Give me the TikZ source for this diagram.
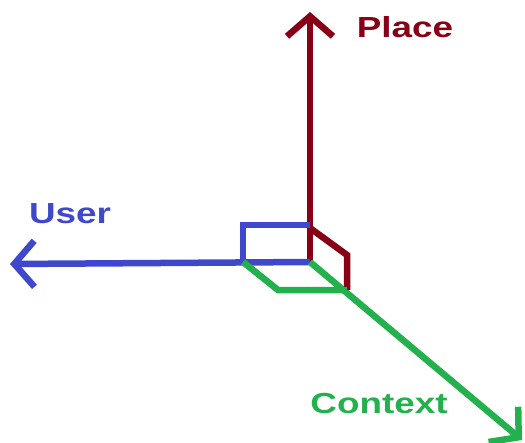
\documentclass[tikz,border=0pt]{standalone}
\usepackage{fontspec}
\setmainfont{Liberation Sans}
\usepackage{xcolor}
\usetikzlibrary{arrows.meta}
\definecolor{placered}{HTML}{880015}
\definecolor{userblue}{HTML}{3F48CC}
\definecolor{ctxgreen}{HTML}{22B14C}

\begin{document}
\begin{tikzpicture}[x=1pt,y=-1pt,
    axis/.style={line width=6.5pt, line join=miter, -{Straight Barb[length=20pt,width=46pt,line width=6.5pt]}},
    face/.style={line width=6.5pt, line join=miter},
    lbl/.style={font=\bfseries\fontsize{29}{29}\selectfont, inner sep=0pt, xscale=1.27, transform shape}]
        \useasboundingbox (0,0) rectangle (525,442);
        \coordinate (o) at (310,262);

        % Place
        \coordinate (pEnd) at (310,12);
        \draw[axis, placered] (o) -- (pEnd);
        \node[lbl, text=placered] (pLbl) at (405,27) {Place};

        % User
        \coordinate (uEnd) at (10,264);
        \draw[axis, userblue] (o) -- (uEnd);
        \node[lbl, text=userblue] (uLbl) at (70,214) {User};

        % Context
        \coordinate (cEnd) at (522,440);
        \draw[axis, ctxgreen] (o) -- (cEnd);
        \node[lbl, text=ctxgreen] (cLbl) at (379,404) {Context};

        % little box at the origin
        \draw[face, userblue] (243,262) -- (243,225) -- (310,225);
        \draw[face, placered] (310,228) -- (347,255) -- (347,290);
        \draw[face, ctxgreen] (243,262) -- (278,290) -- (347,290);
    \end{tikzpicture}
\end{document}
